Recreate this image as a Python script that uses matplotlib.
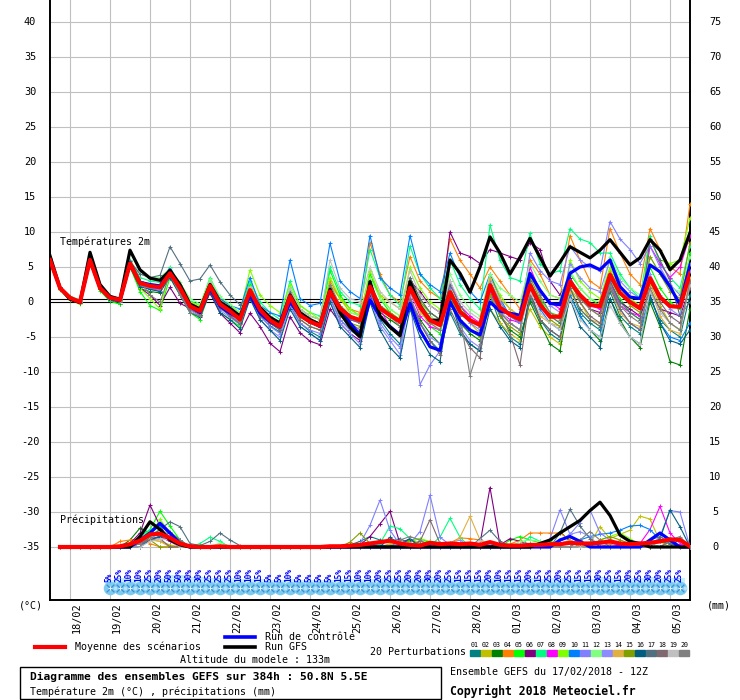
import numpy as np
import matplotlib
matplotlib.use('Agg')
import matplotlib.pyplot as plt
from matplotlib import transforms
from matplotlib.lines import Line2D
from matplotlib.patches import Rectangle

plt.rcParams['font.family'] = ['DejaVu Sans Mono', 'DejaVu Sans']

W, H = 740, 700

# ---------------- data ----------------
hours = np.arange(0, 385, 6)          # 17/02 12Z + 0..384h
day_hours = np.arange(12, 384, 24)    # 00Z of each day
day_labels = ['18/02', '19/02', '20/02', '21/02', '22/02', '23/02', '24/02', '25/02',
              '26/02', '27/02', '28/02', '01/03', '02/03', '03/03', '04/03', '05/03']

t_mean = [6.0, 2.0, 0.6, 0.0, 6.0, 2.0, 0.6, 0.3, 5.5, 2.7, 2.3, 2.1, 4.1, 2.0, -0.6, -1.3,
          2.3, -0.3, -1.3, -2.5, 1.7, -1.1, -2.6, -3.5, 0.8, -1.9, -2.8, -3.4, 1.5, -0.9, -2.1, -2.6,
          2.2, -0.9, -1.9, -2.8, 2.0, -0.7, -2.6, -3.3, 1.4, -1.4, -2.6, -3.3, 2.4, -0.8, -1.8, -2.5,
          2.4, -0.4, -2.1, -2.1, 2.9, 1.0, -0.4, -0.6, 3.9, 1.3, 0.0, -0.9, 3.4, 0.7, -0.6, -0.7, 4.1]
t_ctl = [6.0, 2.0, 0.5, 0.0, 6.0, 2.0, 0.5, 0.2, 5.6, 2.8, 2.5, 2.3, 4.6, 2.0, -0.6, -1.5,
         2.0, -0.6, -1.6, -2.3, 1.0, -1.6, -2.8, -3.6, 0.0, -1.9, -2.8, -3.5, 1.3, -1.1, -3.0, -4.7,
         0.3, -2.1, -3.5, -4.7, -0.2, -4.0, -6.4, -6.9, 0.0, -2.6, -4.0, -4.7, 0.0, -1.3, -1.6, -1.9,
         4.1, 1.7, -0.2, -0.4, 4.1, 5.0, 5.3, 4.6, 6.0, 2.2, 0.7, 0.5, 5.3, 4.3, 2.2, -0.4, 5.3]
t_gfs = [6.6, 2.0, 0.4, -0.1, 7.1, 2.5, 0.8, 0.4, 7.4, 4.6, 3.4, 3.1, 4.5, 2.5, -0.3, -1.0,
         2.5, 0.0, -0.9, -2.0, 1.5, -0.8, -2.2, -3.0, 1.0, -1.5, -2.5, -3.2, 1.8, -1.5, -3.6, -5.0,
         2.9, -2.0, -3.6, -4.8, 2.9, -0.5, -2.6, -2.6, 6.0, 4.1, 1.4, 5.0, 9.3, 7.0, 4.0, 6.4,
         9.1, 6.4, 3.7, 5.7, 7.9, 7.1, 6.3, 7.4, 8.9, 7.1, 5.3, 6.3, 8.9, 7.4, 4.6, 6.0, 9.9]

t01 = [6.2, 2.1, 0.4, -0.2, 5.8, 1.8, 0.3, 0.0, 5.0, 2.5, 2.0, 1.6, 3.5, 1.5, -1.0, -1.8,
       1.8, -0.8, -2.0, -3.0, 1.0, -2.0, -3.4, -4.3, -0.5, -3.0, -4.2, -5.0, 0.5, -2.5, -4.0, -5.0,
       1.0, -2.5, -4.5, -6.0, 0.5, -3.0, -5.5, -7.0, -1.5, -4.5, -6.0, -7.0, 1.0, -3.0, -5.0, -6.0,
       0.5, -2.5, -4.5, -5.5, 2.0, -1.5, -3.0, -4.0, 1.5, -2.0, -3.5, -4.5, 0.5, -2.5, -4.0, -5.0, 1.0]
t02 = [5.8, 1.8, 0.4, 0.0, 6.3, 2.3, 0.8, 0.4, 5.3, 3.0, 2.5, 2.3, 4.5, 2.5, 0.0, -0.8,
       2.8, 0.3, -0.8, -2.0, 2.5, -0.5, -2.0, -3.0, 1.5, -1.5, -2.5, -3.0, 2.5, 0.5, -1.5, -2.0,
       4.0, 1.0, 0.0, -1.0, 3.5, 0.5, -1.5, -2.5, 2.0, -1.0, -3.0, -4.5, -1.0, -3.0, -4.5, -5.5,
       -1.0, -3.5, -5.0, -6.0, 2.0, 0.0, -2.5, -3.5, 4.5, 2.0, 0.5, -1.0, 2.5, -0.5, -3.0, -4.0, 3.0]
t03 = [6.0, 2.2, 0.7, 0.1, 5.9, 2.0, 0.2, -0.3, 5.2, 1.9, 1.5, 1.3, 3.8, 2.2, -0.3, -1.0,
       2.0, -0.5, -1.5, -2.8, 1.5, -1.5, -2.8, -3.8, 1.0, -2.0, -3.0, -3.5, 2.0, -0.5, -2.0, -2.5,
       1.5, -1.5, -2.5, -3.5, 0.5, -2.5, -4.5, -6.0, 0.0, -3.0, -4.5, -5.5, 1.5, -2.0, -4.0, -5.0,
       0.0, -3.0, -6.0, -7.0, 1.0, -2.0, -4.0, -5.5, 0.5, -2.5, -5.0, -6.5, 0.0, -3.5, -8.5, -9.0, -1.0]
t04 = [6.1, 2.0, 0.6, 0.1, 6.1, 2.1, 0.7, 0.4, 5.7, 2.9, 2.4, 2.4, 4.3, 2.2, -0.4, -1.0,
       2.6, 0.0, -1.0, -2.0, 2.0, -0.8, -2.3, -3.0, 1.5, -1.0, -2.0, -2.5, 3.0, 0.5, -1.0, -1.5,
       8.5, 4.0, 1.0, 0.0, 6.5, 3.0, 1.5, 0.5, 9.0, 6.0, 4.0, 2.0, 5.0, 3.0, 1.0, -1.0,
       6.0, 4.0, 1.0, 0.5, 9.5, 6.0, 3.0, 2.0, 10.5, 7.0, 4.0, 2.5, 10.5, 7.5, 5.0, 4.0, 14.0]
t05 = [5.9, 1.9, 0.5, -0.1, 5.7, 1.6, 0.1, -0.3, 5.0, 1.5, -0.5, -1.2, 3.5, 1.0, -1.5, -2.5,
       1.5, -1.5, -2.5, -3.5, 2.5, -1.0, -2.0, -3.0, 2.0, -1.0, -2.0, -2.5, 4.5, 1.0, -1.0, -2.0,
       4.0, 0.5, -1.5, -2.5, 3.0, -1.0, -3.5, -4.5, 1.0, -2.5, -4.0, -5.0, 3.0, 0.0, -2.0, -3.0,
       2.5, 0.5, -1.5, -2.0, 4.0, 2.0, 0.5, -0.5, 3.5, 0.5, -1.5, -2.5, 5.0, 2.0, 0.0, -1.0, 7.0]
t06 = [6.0, 1.9, 0.5, 0.0, 5.9, 1.9, 0.4, 0.0, 5.2, 2.0, 1.0, -0.5, 2.1, -0.2, -0.9, -1.8,
       1.3, -1.6, -3.0, -4.4, -1.6, -3.5, -5.9, -7.1, -2.1, -4.4, -5.6, -6.1, -1.0, -3.0, -4.5, -5.5,
       1.0, -2.0, -3.5, -4.5, 3.0, 1.5, -0.5, -1.5, 10.0, 7.0, 6.5, 5.5, 7.5, 7.0, 6.5, 6.0,
       8.5, 7.5, 3.0, 1.0, 3.5, 1.0, -1.0, -1.5, 3.0, 0.0, -1.0, -2.0, 1.5, -1.0, -1.5, -2.0, 2.0]
t07 = [6.3, 2.2, 0.8, 0.3, 6.2, 2.4, 0.9, 0.5, 6.0, 3.5, 3.0, 2.8, 5.0, 2.5, 0.2, -0.5,
       3.5, 0.5, -0.5, -1.5, 3.0, 0.0, -1.5, -2.5, 3.0, -0.5, -1.5, -2.0, 5.0, 1.5, 0.0, -0.5,
       7.5, 3.5, 1.0, -0.5, 8.0, 4.0, 2.0, 0.5, 6.0, 2.5, 0.5, -1.0, 11.0, 6.0, 3.5, 3.0,
       9.8, 5.5, 4.0, 4.5, 10.5, 9.0, 8.5, 7.0, 7.0, 4.0, 2.0, 0.5, 9.5, 5.5, 3.5, 2.0, 8.0]
t08 = [6.1, 2.0, 0.5, 0.0, 6.0, 2.0, 0.5, 0.2, 5.5, 2.5, 2.0, 1.5, 3.8, 1.5, -1.0, -1.5,
       2.5, -0.3, -1.2, -2.3, 1.5, -1.3, -2.8, -3.5, 0.5, -2.0, -3.0, -3.5, 1.0, -1.0, -2.5, -3.0,
       2.5, -1.0, -3.5, -4.5, 1.5, -2.0, -3.5, -4.0, 3.0, -0.5, -2.0, -3.0, 1.5, -1.5, -2.5, -3.0,
       5.0, 1.5, 0.0, -1.0, 3.0, 1.0, -0.5, -1.0, 3.0, -0.5, -1.5, -2.0, 8.0, 5.5, 3.5, 5.0, 9.5]
t09 = [5.7, 1.7, 0.3, -0.3, 6.4, 2.2, 0.6, 0.3, 5.8, 2.0, 0.5, -1.0, 4.5, 2.5, 0.0, -0.5,
       3.0, 0.5, -0.5, -1.5, 4.6, 1.0, -0.5, -1.5, 2.5, -0.5, -1.5, -2.5, 3.5, 0.5, -1.0, -2.0,
       4.5, 1.0, -1.0, -2.0, 5.0, 2.0, 0.0, -1.0, 2.0, -1.0, -2.5, -3.5, 4.0, 1.0, -1.0, -2.0,
       3.0, 0.0, -2.0, -3.0, 6.0, 3.0, 1.5, 0.5, 5.0, 2.0, 0.5, -0.5, 9.0, 6.0, 5.5, 6.0, 12.0]
t10 = [6.2, 2.1, 0.6, 0.1, 6.0, 2.0, 0.6, 0.3, 5.6, 3.0, 2.5, 2.3, 4.0, 1.8, -0.5, -1.2,
       2.8, 0.5, -0.5, -1.0, 3.5, -0.5, -1.5, -2.0, 6.0, 0.5, -0.5, -0.2, 8.4, 3.0, 1.5, 0.5,
       9.5, 3.5, 2.0, 1.0, 9.5, 4.0, 2.5, 1.5, 7.0, 3.5, 1.5, 0.0, 4.0, 0.5, -2.0, -3.0,
       2.0, -1.0, -3.0, -4.0, 1.0, -2.0, -4.0, -5.0, 2.5, -1.0, -3.0, -4.0, 1.0, -3.0, -5.0, -5.5, -3.0]
t11 = [5.9, 1.9, 0.4, -0.1, 6.1, 2.1, 0.6, 0.3, 5.5, 2.3, 2.0, 1.8, 4.0, 1.5, -0.8, -1.5,
       2.0, -0.8, -1.8, -3.0, 1.0, -2.0, -3.5, -4.5, 0.0, -3.0, -4.0, -4.5, 0.5, -2.5, -4.0, -5.0,
       1.5, -3.0, -5.0, -6.5, 0.5, -11.8, -9.0, -7.0, 2.0, -1.5, -3.0, -4.0, 3.0, 0.0, -2.0, -3.0,
       7.0, 4.5, 3.0, 2.5, 8.0, 6.0, 5.0, 4.5, 11.5, 9.0, 7.5, 5.5, 8.0, 5.0, 2.5, 1.0, 5.5]
t12 = [6.0, 2.0, 0.6, 0.0, 6.1, 2.2, 0.5, 0.2, 5.9, 4.0, 3.5, 3.5, 4.8, 2.8, 0.5, -0.3,
       3.3, 0.8, -0.3, -1.5, 2.0, -1.0, -2.2, -3.2, 1.5, -1.5, -2.5, -3.0, 2.5, -0.5, -1.5, -2.0,
       3.5, 0.5, -1.0, -2.0, 2.5, 0.0, -2.0, -3.0, 4.0, 1.0, -1.0, -2.0, 4.0, 2.0, 1.0, 0.0,
       5.5, 3.0, 1.0, 0.5, 4.5, 2.0, 0.5, 0.0, 6.5, 3.5, 2.0, 1.0, 6.5, 4.0, 2.0, 1.5, 6.5]
t13 = [6.1, 2.1, 0.7, 0.2, 5.8, 1.9, 0.4, 0.1, 5.4, 2.4, 1.8, 1.6, 3.6, 1.2, -1.2, -2.0,
       1.6, -1.2, -2.2, -3.2, 0.5, -2.5, -4.0, -5.0, -0.5, -3.5, -4.5, -5.5, 0.0, -3.0, -4.5, -6.0,
       0.5, -3.5, -5.5, -7.5, 1.0, -3.0, -5.0, -6.0, 0.5, -3.5, -5.5, -6.5, 1.0, -1.5, -3.0, -4.0,
       4.0, 1.5, -0.5, -1.5, 5.5, 3.5, 2.0, 1.5, 6.0, 3.0, 1.5, 0.5, 4.0, 1.0, -1.0, -2.0, 4.5]
t14 = [6.0, 2.0, 0.5, 0.0, 6.2, 2.1, 0.6, 0.2, 5.6, 2.8, 2.2, 2.0, 4.2, 2.0, -0.5, -1.2,
       2.4, -0.2, -1.2, -2.4, 1.8, -1.0, -2.5, -3.5, 1.0, -1.8, -2.8, -3.5, 1.5, -1.0, -2.0, -2.5,
       2.0, -1.0, -2.0, -3.0, 1.5, -1.5, -3.0, -4.0, 1.0, -1.5, -2.5, -3.5, 3.5, 0.5, -1.0, -2.0,
       1.0, -2.0, -3.0, -3.5, 1.5, -1.0, -2.5, -3.0, 2.0, -1.5, -3.0, -3.5, 2.0, -2.0, -4.0, -4.5, 3.5]
t15 = [5.8, 1.9, 0.5, 0.0, 5.9, 1.9, 0.5, 0.2, 5.3, 2.5, 2.2, 2.0, 3.9, 1.8, -0.8, -1.5,
       2.1, -0.6, -1.5, -2.7, 1.2, -1.6, -3.0, -4.0, 0.0, -2.5, -3.5, -4.0, 1.0, -1.5, -3.0, -3.5,
       2.5, -0.5, -1.5, -2.5, 3.0, 0.0, -1.5, -2.5, 0.5, -2.5, -4.0, -5.0, 1.0, -2.0, -3.5, -4.5,
       3.5, 0.5, -2.5, -3.5, 2.5, 0.5, -1.0, -2.0, 4.0, 1.5, -0.5, -1.5, 6.5, 4.0, 1.5, 0.5, 8.5]
t16 = [6.0, 2.0, 0.5, -0.1, 5.8, 1.8, 0.3, 0.0, 5.0, 2.2, 1.8, 1.5, 3.5, 1.0, -1.5, -2.2,
       1.5, -1.5, -2.5, -3.8, 0.5, -2.5, -4.0, -5.5, -1.0, -3.5, -4.5, -5.5, 0.0, -3.5, -5.0, -6.5,
       0.0, -4.0, -6.5, -8.0, -1.0, -5.0, -7.5, -8.5, 0.5, -4.0, -6.0, -7.0, -1.0, -3.5, -5.5, -6.5,
       1.5, -2.5, -4.0, -5.0, 0.5, -3.5, -5.0, -6.5, 0.5, -3.0, -5.0, -6.0, 1.0, -3.0, -5.5, -6.0, -4.0]
t17 = [6.2, 2.2, 0.7, 0.2, 6.0, 2.1, 0.6, 0.3, 5.8, 4.0, 3.5, 3.8, 7.9, 5.5, 3.0, 3.3,
       5.3, 2.9, 1.0, -0.4, 1.0, -1.5, -3.0, -4.0, 1.5, -1.5, -2.5, -3.0, 2.0, -1.0, -2.5, -3.0,
       2.5, -0.5, -2.0, -3.0, 3.5, 0.5, -1.5, -2.5, 2.5, -0.5, -2.5, -3.5, 2.0, -1.5, -3.0, -4.0,
       3.0, 0.0, -2.0, -3.0, 2.0, -1.0, -2.5, -3.5, 3.0, 0.0, -1.5, -2.5, 9.0, 6.0, 3.0, -2.0, 0.0]
t18 = [5.9, 1.8, 0.4, -0.2, 6.0, 1.8, 0.4, 0.0, 5.4, 2.6, 2.5, 2.0, 3.8, 1.5, -1.0, -1.8,
       2.2, -0.8, -2.0, -3.2, 1.0, -2.0, -3.0, -4.0, 0.5, -2.5, -3.5, -4.0, 1.0, -2.0, -3.0, -4.0,
       1.5, -2.0, -3.5, -5.0, 0.5, -3.0, -5.5, -7.5, -1.0, -4.0, -6.5, -8.0, 2.5, -1.5, -4.5, -9.0,
       1.0, -2.5, -4.0, -5.0, 3.0, 0.0, -2.0, -3.0, 2.0, -1.0, -3.0, -4.0, 3.0, 0.0, -2.0, -3.0, 2.0]
t19 = [6.1, 2.0, 0.6, 0.1, 6.1, 2.0, 0.5, 0.2, 5.6, 2.8, 2.3, 2.2, 4.2, 2.2, -0.2, -1.0,
       2.8, 0.2, -0.8, -2.0, 2.2, -0.5, -2.0, -3.0, 2.0, -1.0, -2.0, -2.5, 6.0, 2.0, 0.5, 0.0,
       5.0, 1.5, 0.0, -1.0, 4.5, 1.0, -0.5, -1.5, 3.0, 0.0, -1.5, -2.5, 2.0, -1.0, -3.0, -4.0,
       1.5, -1.5, -3.0, -4.0, 0.5, -2.5, -4.0, -5.0, -0.5, -3.0, -5.0, -6.0, 1.5, -1.5, -3.0, -4.0, 2.5]
t20 = [6.0, 2.0, 0.6, 0.0, 6.0, 2.0, 0.7, 0.3, 5.5, 3.0, 1.0, 0.0, 4.0, 1.0, -1.5, -2.0,
       2.0, -0.5, -1.5, -2.5, 1.5, -1.5, -2.5, -3.5, 0.5, -2.0, -3.0, -3.5, 2.5, -0.5, -2.0, -3.0,
       3.0, -0.5, -2.0, -3.5, 2.5, -1.0, -3.0, -4.0, 1.5, -2.0, -10.5, -6.0, 2.0, -1.5, -3.0, -4.0,
       4.0, 1.0, -1.5, -2.5, 3.0, 0.5, -1.0, -2.0, 2.5, -0.5, -2.0, -3.0, 2.0, -1.0, -3.0, -4.0, 3.0]

# precipitation (mm per 6h)
p_mean = [0, 0, 0, 0, 0, 0, 0, 0.1, 0.4, 0.9, 1.8, 1.9, 1.3, 0.5, 0.1, 0, 0, 0.1, 0, 0,
          0, 0, 0, 0, 0, 0, 0, 0, 0.1, 0.1, 0.2, 0.3, 0.5, 0.7, 0.9, 0.5, 0.3, 0.2, 0.6, 0.4,
          0.5, 0.4, 0.5, 0.3, 0.7, 0.3, 0.2, 0.2, 0.3, 0.3, 0.4, 0.4, 0.6, 0.5, 0.5, 0.6, 0.8, 0.5, 0.4, 0.5,
          0.6, 0.8, 1.1, 1.0, 0.1]
p_ctl = [0, 0, 0, 0, 0, 0, 0, 0, 0, 1.0, 2.0, 3.4, 2.0, 0.5, 0, 0, 0, 0, 0, 0,
         0, 0, 0, 0, 0, 0, 0, 0, 0, 0, 0, 0, 0, 0, 0, 0, 0, 0, 0, 0,
         0, 0, 0, 0, 0, 0, 0, 0, 0, 0, 0, 1.0, 1.5, 0.8, 0, 0, 0, 0, 0, 0,
         1.0, 2.0, 1.0, 0, 0]
p_gfs = [0, 0, 0, 0, 0, 0, 0, 0, 0, 1.5, 3.6, 2.5, 1.0, 0.3, 0, 0, 0, 0, 0, 0,
         0, 0, 0, 0, 0, 0, 0, 0, 0, 0, 0, 0, 0, 0, 0, 0, 0, 0, 0, 0,
         0, 0, 0, 0, 0, 0, 0, 0, 0, 0.5, 1.0, 2.0, 2.9, 3.8, 5.2, 6.4, 4.5, 1.7, 0.8, 0.5,
         0, 0, 0, 0, 0]
p01 = [0, 0, 0, 0, 0, 0, 0, 0, 0, 0.5, 1.2, 1.5, 1.0, 0.4, 0, 0, 0, 0, 0, 0,
       0, 0, 0, 0, 0, 0, 0, 0, 0, 0, 0.3, 0.8, 1.5, 1.0, 0.8, 1.2, 0.5, 0, 0.8, 0.6,
       0, 0, 0, 0, 0.3, 0, 0, 0, 0, 0, 0, 0, 0, 0, 0, 0, 0, 0, 0, 0, 0.5, 0.8, 0.5, 0, 0]
p02 = [0, 0, 0, 0, 0, 0, 0, 0, 0.6, 0.8, 1.0, 0.8, 0.3, 0, 0, 0, 0, 0, 0, 0,
       0, 0, 0, 0, 0, 0, 0, 0, 0, 0, 0, 0, 0, 0, 0.5, 0.3, 0, 0, 0, 0,
       0, 0, 0, 0, 0, 0, 0, 0, 0, 0, 0, 0, 0, 0, 0.5, 2.9, 1.2, 1.8, 2.4, 4.4, 4.0, 0.8, 0, 0, 0]
p03 = [0, 0, 0, 0, 0, 0, 0, 0, 1.0, 2.7, 2.0, 1.5, 0.8, 0.3, 0, 0, 0, 0, 0, 0,
       0, 0, 0, 0, 0, 0, 0, 0, 0, 0, 0, 0, 0, 0, 0, 0, 0.4, 0.8, 0.5, 0,
       0, 0, 0, 0, 0, 0, 0, 0, 0.5, 0.3, 1.0, 2.2, 0.8, 0, 0, 0, 0, 0, 0, 0, 0.5, 0, 0, 1.2, 0]
p04 = [0, 0, 0, 0, 0, 0, 0, 0.8, 1.0, 1.2, 0.5, 0, 0, 0, 0, 0, 0, 0, 0, 0,
       0, 0, 0, 0, 0, 0, 0, 0, 0, 0, 0, 0, 0, 0, 0, 0, 0, 0, 0, 0,
       0.6, 1.3, 1.2, 1.0, 0, 0, 0.4, 1.0, 2.0, 2.0, 2.0, 2.0, 1.0, 0, 0, 0, 0.5, 0.3, 0, 0, 0, 0, 0, 0, 0]
p05 = [0, 0, 0, 0, 0, 0, 0, 0, 0, 1.0, 2.5, 5.1, 3.0, 1.0, 0, 0, 0, 0, 0, 0,
       0, 0, 0, 0, 0, 0, 0, 0, 0, 0, 0, 0, 0, 0, 0, 0, 0.8, 1.2, 0.6, 0,
       0, 0, 0, 0, 0, 0, 1.0, 1.5, 1.0, 0.6, 0.8, 0, 0, 0, 0, 0, 0, 0, 0, 0, 0, 0, 0, 0, 0]
p06 = [0, 0, 0, 0, 0, 0, 0, 0, 0.5, 2.0, 6.0, 3.0, 1.0, 0.5, 0, 0, 0, 0, 0, 0,
       0, 0, 0, 0, 0, 0, 0, 0, 0, 0, 0, 0.3, 1.5, 3.3, 5.1, 0.5, 1.2, 0, 0, 0,
       0, 0, 0, 0.5, 8.5, 0.3, 1.2, 0.8, 0.4, 0, 0, 0, 0, 0, 0, 0, 0, 0, 0, 0, 0, 0, 0, 0, 0]
p07 = [0, 0, 0, 0, 0, 0, 0, 0, 0, 1.5, 2.5, 3.0, 2.0, 1.0, 0, 0.5, 1.4, 0.8, 0, 0,
       0, 0, 0, 0, 0, 0, 0, 0, 0, 0, 0, 0, 0, 0.5, 3.0, 2.6, 1.2, 0.2, 0.2, 1.4,
       4.1, 1.4, 0, 0, 0, 0, 0, 0, 1.5, 0.8, 0, 0, 0, 0, 0, 0, 0, 0, 0, 0, 0, 0, 0, 0, 0]
p08 = [0, 0, 0, 0, 0, 0, 0, 0, 0, 0, 1.0, 1.5, 0.8, 0, 0, 0, 0, 0, 0, 0,
       0, 0, 0, 0, 0, 0, 0, 0, 0, 0, 0, 0, 0, 0, 0, 0, 0, 0, 0, 0,
       0, 0, 0, 0, 0, 0, 0, 0, 0, 0, 0, 0, 0, 0, 0, 0, 0, 0.3, 0.3, 0.5, 2.5, 5.8, 2.0, 0.5, 0]
p09 = [0, 0, 0, 0, 0, 0, 0, 0, 0, 0.8, 1.5, 4.0, 2.0, 0.5, 0, 0, 0, 0, 0, 0,
       0, 0, 0, 0, 0, 0, 0, 0, 0, 0, 0, 0, 0, 0, 0, 0, 1.0, 1.2, 0.8, 0.5,
       0, 0, 0, 0, 0, 0, 0, 0, 0, 0, 0, 0, 0, 0, 0, 1.0, 1.5, 2.0, 1.2, 0, 0, 0, 0, 0, 0]
p10 = [0, 0, 0, 0, 0, 0, 0, 0, 0, 0, 2.0, 3.0, 2.0, 0.8, 0, 0, 0, 0, 0, 0,
       0, 0, 0, 0, 0, 0, 0, 0, 0, 0, 0, 0, 0, 0, 0, 0, 0, 0, 0, 0,
       0, 0, 0, 0, 0, 0, 0, 0, 0, 0, 0, 0, 0, 1.0, 1.5, 1.8, 2.0, 2.4, 3.0, 3.1, 2.5, 1.0, 0.8, 0, 0]
p11 = [0, 0, 0, 0, 0, 0, 0, 0, 0, 0, 1.5, 2.5, 1.5, 0, 0, 0, 0, 0, 0, 0,
       0, 0, 0, 0, 0, 0, 0, 0, 0, 0, 0, 0.5, 3.1, 6.7, 2.4, 0.3, 0.5, 2.2, 7.4, 1.4,
       0.3, 0, 0, 0, 0, 0, 0, 0, 0, 0, 1.2, 5.3, 1.8, 3.5, 5.3, 2.0, 1.0, 0.5, 0, 0, 0, 1.5, 5.2, 5.0, 0]
p12 = [0, 0, 0, 0, 0, 0, 0, 0, 0, 1.0, 1.8, 2.5, 1.2, 0, 0, 0, 0, 0.6, 0, 0,
       0, 0, 0, 0, 0, 0, 0, 0, 0, 0, 0, 0, 0, 0, 0, 0, 0, 0, 0, 0,
       0, 0, 0, 0, 0, 0, 0, 0.8, 1.0, 0.8, 0, 0, 0, 0, 0, 0, 0, 0, 0, 0, 0, 0, 0, 0, 0]
p13 = [0, 0, 0, 0, 0, 0, 0, 0, 0, 0, 1.2, 2.0, 1.5, 0.5, 0, 0, 0, 0, 0, 0,
       0, 0, 0, 0, 0, 0, 0, 0, 0, 0, 0, 0, 0, 0, 0, 0, 0, 0, 0, 0,
       0.6, 1.0, 0, 0, 0, 0, 0, 0, 0, 0, 0, 1.0, 1.8, 2.2, 1.5, 0, 0, 0, 0, 0, 0, 0, 0, 0, 0]
p14 = [0, 0, 0, 0, 0, 0, 0, 0, 0.5, 1.0, 1.2, 0.8, 0, 0, 0, 0, 0, 0, 0, 0,
       0, 0, 0, 0, 0, 0, 0, 0, 0, 0, 0, 0, 0.3, 0, 0, 0, 0, 0, 0, 0,
       0, 1.4, 4.4, 1.0, 0.5, 0, 0, 0, 0, 0, 0, 0.5, 1.0, 0, 0, 0, 0, 0, 0, 0, 0, 0, 0, 0, 0]
p15 = [0, 0, 0, 0, 0, 0, 0, 0, 0.4, 0.8, 1.0, 0, 0, 0, 0, 0, 0, 0, 0, 0,
       0, 0, 0, 0, 0, 0, 0, 0, 0, 0, 0.7, 2.0, 0.5, 0, 0, 0, 1.0, 0.5, 0, 0,
       0, 0, 0, 0, 0, 0, 0, 0, 0, 0, 0, 0, 0, 0, 0, 1.0, 1.5, 1.0, 0.5, 0, 0, 0, 0, 0, 0]
p16 = [0, 0, 0, 0, 0, 0, 0, 0, 0, 0, 1.0, 1.5, 2.0, 1.0, 0, 0, 0, 0, 0, 0,
       0, 0, 0, 0, 0, 0, 0, 0, 0, 0, 0, 0, 0, 0, 1.4, 0.3, 1.2, 0, 0, 0,
       0, 0, 0, 0, 0, 0, 0, 0, 0, 0, 0, 0, 0, 0, 0, 0, 0, 0, 0, 0, 0, 1.2, 5.3, 2.9, 0]
p17 = [0, 0, 0, 0, 0, 0, 0, 0, 0, 0, 1.5, 2.5, 3.6, 2.9, 0.5, 0.2, 0.8, 2.0, 1.0, 0.2,
       0, 0, 0, 0, 0, 0, 0, 0, 0, 0, 0, 0, 0, 0, 0, 0, 0, 0, 0, 0,
       0, 0, 0, 1.2, 2.4, 0.8, 0, 0, 0, 0, 0, 2.0, 5.4, 3.0, 1.2, 0, 0, 0, 0, 0, 1.0, 1.5, 0.5, 0, 0]
p18 = [0, 0, 0, 0, 0, 0, 0, 0, 0, 0.5, 1.0, 1.2, 0, 0, 0, 0, 0, 0, 0, 0,
       0, 0, 0, 0, 0, 0, 0, 0, 0, 0, 0, 0, 0, 0, 0, 0, 0, 0.8, 3.9, 0.5,
       0, 0, 0, 0, 0, 0, 0, 0, 0, 0, 0, 0, 0, 0, 0, 0, 0, 0, 0, 0, 0, 0, 0.8, 0, 0]
p19 = [0, 0, 0, 0, 0, 0, 0, 0, 0, 0, 0.8, 1.2, 1.0, 0, 0, 0, 0, 0, 0, 0,
       0, 0, 0, 0, 0, 0, 0, 0, 0, 0, 0, 0, 0, 0, 0, 0.8, 0.5, 0, 0, 0,
       0, 0, 0, 1.0, 0.5, 0, 0, 0, 0, 0, 0, 0, 0, 0, 0, 0, 0, 0, 0, 0, 0.5, 0, 0, 0, 0]
p20 = [0, 0, 0, 0, 0, 0, 0, 0, 0, 0.5, 1.5, 2.0, 2.2, 1.0, 0, 0, 0, 0, 0, 0,
       0, 0, 0, 0, 0, 0, 0, 0, 0, 0, 0, 0, 0, 0, 0, 1.0, 1.5, 1.0, 0, 0,
       0, 0, 0, 0, 0, 0, 0, 0, 0, 0, 0, 0, 0, 1.0, 2.2, 1.0, 0, 0, 0, 0, 0, 0, 1.0, 1.5, 0]

# probability of precipitation, from 19/02 00Z (36h) to 05/03 06Z (378h)
rain_pct = [5, 25, 10, 10, 25, 20, 50, 50, 30, 30, 25, 25, 25, 10, 10, 15, 5, 5, 10, 5,
            5, 5, 5, 15, 15, 10, 10, 20, 25, 25, 20, 20, 30, 20, 25, 15, 15, 15, 20, 10,
            15, 15, 20, 15, 25, 20, 25, 15, 15, 30, 25, 15, 20, 25, 30, 20, 25, 25]
pct_hours = np.arange(36, 379, 6)

members_t = [t01, t02, t03, t04, t05, t06, t07, t08, t09, t10,
             t11, t12, t13, t14, t15, t16, t17, t18, t19, t20]
members_p = [p01, p02, p03, p04, p05, p06, p07, p08, p09, p10,
             p11, p12, p13, p14, p15, p16, p17, p18, p19, p20]
colors = ['#008080', '#c0c000', '#008000', '#ff8000', '#00ff00', '#800080', '#00ff80',
          '#ff00ff', '#80ff00', '#0080ff', '#8080ff', '#80ff80', '#8c8cff', '#e0b040',
          '#80a000', '#005f80', '#507080', '#806870', '#c0c0c0', '#808080']

# ---------------- figure ----------------
fig = plt.figure(figsize=(W / 100, H / 100), dpi=100)
ax = fig.add_axes([50 / W, 100 / H, 640 / W, 600 / H])
ylo, yhi = (302 - 600) / 7, 302 / 7
ax.set_xlim(0, 384)
ax.set_ylim(ylo, yhi)
ax.set_xticks([])
ax.set_yticks([])
for s in ['left', 'right', 'bottom']:
    ax.spines[s].set_linewidth(1.4)
ax.spines['top'].set_visible(False)

# grid
for v in range(-35, 45, 5):
    if v != 0:
        ax.axhline(v, color='#c0c0c0', lw=0.8, zorder=0)
for d in day_hours:
    ax.axvline(d, color='#c0c0c0', lw=0.8, zorder=0)
ax.axhline(0, color='black', lw=0.8, zorder=1)
ax.axhline(0.43, color='black', lw=0.8, zorder=1)

# probability band + icons
ax.bar(pct_hours, [(4 + p * 0.1) / 7 for p in rain_pct], bottom=-40.3, width=6,
       color='#c4f2fb', zorder=1)
icon_y = [-40.86] * len(pct_hours)
ax.scatter(pct_hours, icon_y, s=95, color='#7ecbf0', zorder=2, lw=0)
ax.scatter(pct_hours, icon_y, s=30, marker='x', color='#3a8fd0', lw=0.9, zorder=3)
ax.scatter(pct_hours, icon_y, s=10, marker='+', color='#dff0ff', lw=0.8, zorder=4)
ax.scatter(pct_hours + 3, icon_y, s=7, color='#b8e4fa', zorder=3, lw=0)
for h, p in zip(pct_hours, rain_pct):
    ax.text(h - 0.6, -39.95, f'{p}%', rotation=90, ha='center', va='bottom',
            color='#0000ff', fontsize=5.6, fontweight='bold')

# temperature members
for t, c in zip(members_t, colors):
    ax.plot(hours, t, color=c, lw=0.8, marker='+', ms=3, mew=0.7, zorder=3)
ax.plot(hours, t_ctl, color='#0000ff', lw=2.3, zorder=4)
ax.plot(hours, t_gfs, color='black', lw=2.3, zorder=5)
ax.plot(hours, t_mean, color='#ff0000', lw=3, zorder=6)

# precipitation on shifted axis
ax2 = ax.twinx()
ax2.set_ylim(ylo + 35, yhi + 35)
ax2.set_yticks([])
ax2.axis('off')
for p, c in zip(members_p, colors):
    ax2.plot(hours[1:], p[1:], color=c, lw=0.8, marker='+', ms=3, mew=0.7, zorder=3)
ax2.plot(hours[1:], p_ctl[1:], color='#0000ff', lw=2.3, zorder=4)
ax2.plot(hours[1:], p_gfs[1:], color='black', lw=2.3, zorder=5)
ax2.plot(hours[1:], p_mean[1:], color='#ff0000', lw=3, zorder=6)

# axis labels
left_tr = transforms.blended_transform_factory(fig.transFigure, ax.transData)
for v in range(-35, 45, 5):
    ax.text(30 / W, v, str(v), transform=left_tr, ha='center', va='center', fontsize=7.4)
right_tr = transforms.blended_transform_factory(fig.transFigure, ax2.transData)
for v in range(0, 80, 5):
    ax2.text(715 / W, v, str(v), transform=right_tr, ha='center', va='center', fontsize=7.4)
date_tr = transforms.offset_copy(
    transforms.blended_transform_factory(ax.transData, fig.transFigure), fig=fig, x=7, y=0, units='dots')
for d, lab in zip(day_hours, day_labels):
    ax.text(d, 1 - 602 / H, lab, transform=date_tr, rotation=90, ha='center', va='top', fontsize=7.4)


def ftext(x, y, s, **kw):
    fig.text(x / W, 1 - y / H, s, **kw)


ftext(60, 242, 'Températures 2m', va='center', fontsize=7.2)
ftext(60, 520, 'Précipitations', va='center', fontsize=7.2)
ftext(31, 606, '(°C)', ha='center', va='center', fontsize=7.2)
ftext(719, 606, '(mm)', ha='center', va='center', fontsize=7.2)

# legend
fig.add_artist(Line2D([35 / W, 65 / W], [1 - 647 / H] * 2, color='#ff0000', lw=3))
ftext(75, 647, 'Moyenne des scénarios', va='center', fontsize=7.2)
fig.add_artist(Line2D([225 / W, 255 / W], [1 - 637 / H] * 2, color='#0000ff', lw=2.6))
ftext(265, 637, 'Run de contrôle', va='center', fontsize=7.2)
fig.add_artist(Line2D([225 / W, 255 / W], [1 - 647 / H] * 2, color='black', lw=2.6))
ftext(265, 647, 'Run GFS', va='center', fontsize=7.2)
ftext(255, 660, 'Altitude du modele : 133m', ha='center', va='center', fontsize=7.2)
ftext(370, 652, '20 Perturbations', va='center', fontsize=7.2)
for j, c in enumerate(colors):
    fig.add_artist(Rectangle(((470 + 11 * j) / W, 1 - 656 / H), 10 / W, 6 / H,
                             color=c, transform=fig.transFigure))
    ftext(475 + 11 * j, 645, f'{j + 1:02d}', ha='center', va='center', fontsize=4.8)

fig.add_artist(Rectangle((20 / W, 1 - 699 / H), 421 / W, 32 / H, fill=False,
                         lw=1, edgecolor='black', transform=fig.transFigure))
ftext(30, 677, 'Diagramme des ensembles GEFS sur 384h : 50.8N 5.5E', va='center',
      fontsize=8.1, fontweight='bold')
ftext(30, 692, 'Température 2m (°C) , précipitations (mm)', va='center', fontsize=7.2)
ftext(450, 672, 'Ensemble GEFS du 17/02/2018 - 12Z', va='center', fontsize=7.2)
ftext(450, 691, 'Copyright 2018 Meteociel.fr', va='center', fontsize=8.3, fontweight='bold')

fig.savefig('out.png', dpi=100)
